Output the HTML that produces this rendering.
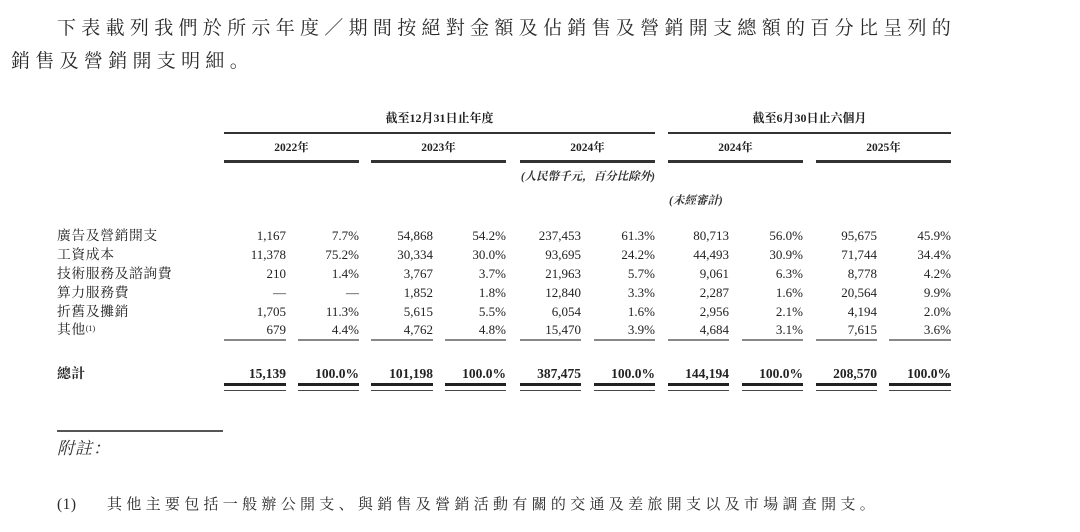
<!DOCTYPE html>
<html>
<head>
<meta charset="utf-8">
<style>
  html, body { margin:0; padding:0; background:#fff; }
  body { width:1080px; height:532px; position:relative; overflow:hidden;
         font-family:"Liberation Serif","Noto Serif CJK SC",serif; color:#222; }
  .a { position:absolute; white-space:nowrap; }
  .t { font-size:19px; letter-spacing:5.3px; line-height:24px; color:#2a2a2a; }
  .hb { font-weight:bold; font-size:12px; line-height:16px; }
  .yr { font-weight:bold; font-size:11.5px; line-height:16px; text-align:center; }
  .it { font-style:italic; font-weight:bold; font-size:11.5px; line-height:16px; color:#333; }
  .lab { font-size:13.8px; letter-spacing:0.6px; line-height:19px; left:57px; }
  .n { font-size:13px; line-height:19px; text-align:right; width:80px; }
  .nb { font-size:13.5px; font-weight:bold; line-height:19px; text-align:right; width:80px; }
  .ln { position:absolute; }
  sup { font-size:8px; vertical-align:top; position:relative; top:-1px; letter-spacing:0; }
</style>
</head>
<body>
<!-- Title -->
<div class="a t" style="left:57px;top:17px;">下表載列我們於所示年度／期間按絕對金額及佔銷售及營銷開支總額的百分比呈列的</div>
<div class="a t" style="left:11px;top:50px;">銷售及營銷開支明細。</div>

<!-- Group headers -->
<div class="a hb" style="left:224px;width:431px;text-align:center;top:110px;">截至12月31日止年度</div>
<div class="a hb" style="left:668px;width:283px;text-align:center;top:110px;">截至6月30日止六個月</div>
<div class="ln" style="left:224px;width:431px;top:131.5px;height:2.5px;background:#333;"></div>
<div class="ln" style="left:668px;width:283px;top:131.5px;height:2.5px;background:#333;"></div>

<div class="a yr" style="left:224px;width:135px;top:140px;">2022年</div>
<div class="a yr" style="left:371px;width:135px;top:140px;">2023年</div>
<div class="a yr" style="left:520px;width:135px;top:140px;">2024年</div>
<div class="a yr" style="left:668px;width:135px;top:140px;">2024年</div>
<div class="a yr" style="left:816px;width:135px;top:140px;">2025年</div>
<div class="ln" style="left:224px;width:135px;top:160px;height:2.5px;background:#333;"></div>
<div class="ln" style="left:371px;width:135px;top:160px;height:2.5px;background:#333;"></div>
<div class="ln" style="left:520px;width:135px;top:160px;height:2.5px;background:#333;"></div>
<div class="ln" style="left:668px;width:135px;top:160px;height:2.5px;background:#333;"></div>
<div class="ln" style="left:816px;width:135px;top:160px;height:2.5px;background:#333;"></div>

<div class="a it" style="right:425px;top:169px;">(人民幣千元，百分比除外)</div>
<div class="a it" style="left:669px;top:193px;">(未經審計)</div>

<!-- Row labels -->
<div class="a lab" style="top:225.5px;">廣告及營銷開支</div>
<div class="a lab" style="top:244.5px;">工資成本</div>
<div class="a lab" style="top:263.5px;">技術服務及諮詢費</div>
<div class="a lab" style="top:282.5px;">算力服務費</div>
<div class="a lab" style="top:301.5px;">折舊及攤銷</div>
<div class="a lab" style="top:319.5px;">其他<sup>(1)</sup></div>
<div class="a lab" style="top:363.5px;font-weight:bold;">總計</div>

<!-- Row 1 -->
<div class="a n" style="left:206px;top:225.5px;">1,167</div>
<div class="a n" style="left:279px;top:225.5px;">7.7%</div>
<div class="a n" style="left:353px;top:225.5px;">54,868</div>
<div class="a n" style="left:426px;top:225.5px;">54.2%</div>
<div class="a n" style="left:501px;top:225.5px;">237,453</div>
<div class="a n" style="left:575px;top:225.5px;">61.3%</div>
<div class="a n" style="left:649px;top:225.5px;">80,713</div>
<div class="a n" style="left:723px;top:225.5px;">56.0%</div>
<div class="a n" style="left:797px;top:225.5px;">95,675</div>
<div class="a n" style="left:871px;top:225.5px;">45.9%</div>
<!-- Row 2 -->
<div class="a n" style="left:206px;top:244.5px;">11,378</div>
<div class="a n" style="left:279px;top:244.5px;">75.2%</div>
<div class="a n" style="left:353px;top:244.5px;">30,334</div>
<div class="a n" style="left:426px;top:244.5px;">30.0%</div>
<div class="a n" style="left:501px;top:244.5px;">93,695</div>
<div class="a n" style="left:575px;top:244.5px;">24.2%</div>
<div class="a n" style="left:649px;top:244.5px;">44,493</div>
<div class="a n" style="left:723px;top:244.5px;">30.9%</div>
<div class="a n" style="left:797px;top:244.5px;">71,744</div>
<div class="a n" style="left:871px;top:244.5px;">34.4%</div>
<!-- Row 3 -->
<div class="a n" style="left:206px;top:263.5px;">210</div>
<div class="a n" style="left:279px;top:263.5px;">1.4%</div>
<div class="a n" style="left:353px;top:263.5px;">3,767</div>
<div class="a n" style="left:426px;top:263.5px;">3.7%</div>
<div class="a n" style="left:501px;top:263.5px;">21,963</div>
<div class="a n" style="left:575px;top:263.5px;">5.7%</div>
<div class="a n" style="left:649px;top:263.5px;">9,061</div>
<div class="a n" style="left:723px;top:263.5px;">6.3%</div>
<div class="a n" style="left:797px;top:263.5px;">8,778</div>
<div class="a n" style="left:871px;top:263.5px;">4.2%</div>
<!-- Row 4 -->
<div class="a n" style="left:206px;top:282.5px;">—</div>
<div class="a n" style="left:279px;top:282.5px;">—</div>
<div class="a n" style="left:353px;top:282.5px;">1,852</div>
<div class="a n" style="left:426px;top:282.5px;">1.8%</div>
<div class="a n" style="left:501px;top:282.5px;">12,840</div>
<div class="a n" style="left:575px;top:282.5px;">3.3%</div>
<div class="a n" style="left:649px;top:282.5px;">2,287</div>
<div class="a n" style="left:723px;top:282.5px;">1.6%</div>
<div class="a n" style="left:797px;top:282.5px;">20,564</div>
<div class="a n" style="left:871px;top:282.5px;">9.9%</div>
<!-- Row 5 -->
<div class="a n" style="left:206px;top:301.5px;">1,705</div>
<div class="a n" style="left:279px;top:301.5px;">11.3%</div>
<div class="a n" style="left:353px;top:301.5px;">5,615</div>
<div class="a n" style="left:426px;top:301.5px;">5.5%</div>
<div class="a n" style="left:501px;top:301.5px;">6,054</div>
<div class="a n" style="left:575px;top:301.5px;">1.6%</div>
<div class="a n" style="left:649px;top:301.5px;">2,956</div>
<div class="a n" style="left:723px;top:301.5px;">2.1%</div>
<div class="a n" style="left:797px;top:301.5px;">4,194</div>
<div class="a n" style="left:871px;top:301.5px;">2.0%</div>
<!-- Row 6 -->
<div class="a n" style="left:206px;top:319.5px;">679</div>
<div class="a n" style="left:279px;top:319.5px;">4.4%</div>
<div class="a n" style="left:353px;top:319.5px;">4,762</div>
<div class="a n" style="left:426px;top:319.5px;">4.8%</div>
<div class="a n" style="left:501px;top:319.5px;">15,470</div>
<div class="a n" style="left:575px;top:319.5px;">3.9%</div>
<div class="a n" style="left:649px;top:319.5px;">4,684</div>
<div class="a n" style="left:723px;top:319.5px;">3.1%</div>
<div class="a n" style="left:797px;top:319.5px;">7,615</div>
<div class="a n" style="left:871px;top:319.5px;">3.6%</div>

<!-- thin lines under data -->
<div class="ln" style="left:224px;width:62px;top:338.5px;height:2px;background:#888;"></div>
<div class="ln" style="left:298px;width:61px;top:338.5px;height:2px;background:#888;"></div>
<div class="ln" style="left:371px;width:62px;top:338.5px;height:2px;background:#888;"></div>
<div class="ln" style="left:445px;width:61px;top:338.5px;height:2px;background:#888;"></div>
<div class="ln" style="left:520px;width:61px;top:338.5px;height:2px;background:#888;"></div>
<div class="ln" style="left:594px;width:61px;top:338.5px;height:2px;background:#888;"></div>
<div class="ln" style="left:668px;width:61px;top:338.5px;height:2px;background:#888;"></div>
<div class="ln" style="left:742px;width:61px;top:338.5px;height:2px;background:#888;"></div>
<div class="ln" style="left:816px;width:61px;top:338.5px;height:2px;background:#888;"></div>
<div class="ln" style="left:889px;width:62px;top:338.5px;height:2px;background:#888;"></div>

<!-- Total row -->
<div class="a nb" style="left:206px;top:363.5px;">15,139</div>
<div class="a nb" style="left:279px;top:363.5px;">100.0%</div>
<div class="a nb" style="left:353px;top:363.5px;">101,198</div>
<div class="a nb" style="left:426px;top:363.5px;">100.0%</div>
<div class="a nb" style="left:501px;top:363.5px;">387,475</div>
<div class="a nb" style="left:575px;top:363.5px;">100.0%</div>
<div class="a nb" style="left:649px;top:363.5px;">144,194</div>
<div class="a nb" style="left:723px;top:363.5px;">100.0%</div>
<div class="a nb" style="left:797px;top:363.5px;">208,570</div>
<div class="a nb" style="left:871px;top:363.5px;">100.0%</div>

<!-- double lines -->
<div class="ln" style="left:224px;width:62px;top:383px;height:3px;background:#222;"></div>
<div class="ln" style="left:298px;width:61px;top:383px;height:3px;background:#222;"></div>
<div class="ln" style="left:371px;width:62px;top:383px;height:3px;background:#222;"></div>
<div class="ln" style="left:445px;width:61px;top:383px;height:3px;background:#222;"></div>
<div class="ln" style="left:520px;width:61px;top:383px;height:3px;background:#222;"></div>
<div class="ln" style="left:594px;width:61px;top:383px;height:3px;background:#222;"></div>
<div class="ln" style="left:668px;width:61px;top:383px;height:3px;background:#222;"></div>
<div class="ln" style="left:742px;width:61px;top:383px;height:3px;background:#222;"></div>
<div class="ln" style="left:816px;width:61px;top:383px;height:3px;background:#222;"></div>
<div class="ln" style="left:889px;width:62px;top:383px;height:3px;background:#222;"></div>

<div class="ln" style="left:224px;width:62px;top:389.5px;height:1.5px;background:#444;"></div>
<div class="ln" style="left:298px;width:61px;top:389.5px;height:1.5px;background:#444;"></div>
<div class="ln" style="left:371px;width:62px;top:389.5px;height:1.5px;background:#444;"></div>
<div class="ln" style="left:445px;width:61px;top:389.5px;height:1.5px;background:#444;"></div>
<div class="ln" style="left:520px;width:61px;top:389.5px;height:1.5px;background:#444;"></div>
<div class="ln" style="left:594px;width:61px;top:389.5px;height:1.5px;background:#444;"></div>
<div class="ln" style="left:668px;width:61px;top:389.5px;height:1.5px;background:#444;"></div>
<div class="ln" style="left:742px;width:61px;top:389.5px;height:1.5px;background:#444;"></div>
<div class="ln" style="left:816px;width:61px;top:389.5px;height:1.5px;background:#444;"></div>
<div class="ln" style="left:889px;width:62px;top:389.5px;height:1.5px;background:#444;"></div>

<!-- Footnote -->
<div class="ln" style="left:57px;width:166px;top:430px;height:1.5px;background:#555;"></div>
<div class="a" style="left:57px;top:438px;font-size:17px;line-height:22px;font-style:italic;letter-spacing:1px;color:#333;">附註：</div>
<div class="a" style="left:57px;top:494px;font-size:15.5px;line-height:22px;letter-spacing:0.5px;color:#2a2a2a;">(1)</div>
<div class="a" style="left:107px;top:494px;font-size:15px;line-height:22px;letter-spacing:4.3px;color:#2a2a2a;">其他主要包括一般辦公開支、與銷售及營銷活動有關的交通及差旅開支以及市場調查開支。</div>
</body>
</html>
